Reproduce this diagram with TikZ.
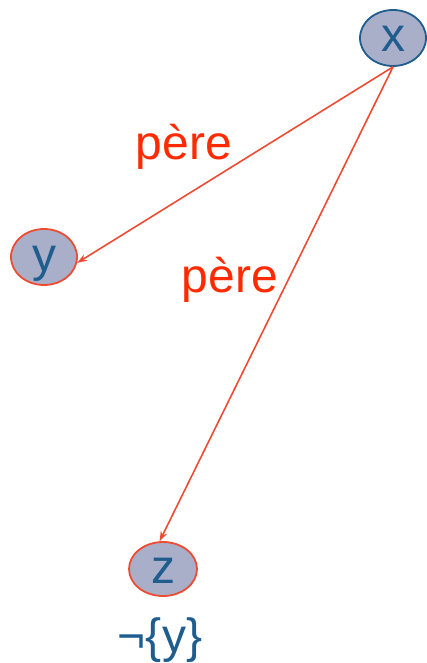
\documentclass[tikz,border=0pt]{standalone}
\usepackage{fontspec}
\setmainfont{Liberation Sans}
\usetikzlibrary{positioning, arrows.meta, shapes.geometric}
\definecolor{nodefill}{HTML}{A9AFC9}
\definecolor{nodeblue}{HTML}{1F5D8E}
\definecolor{edgered}{HTML}{EE4B33}
\definecolor{labelred}{HTML}{FF2A00}
\tikzset{
  var/.style={ellipse, draw=edgered, fill=nodefill, line width=1.8pt, minimum width=66pt, minimum height=56pt, inner sep=0pt, text=nodeblue, font=\fontsize{48}{48}\selectfont, text height=28pt, text depth=0pt},
  pere/.style={-{Stealth[length=10pt, width=7pt]}, edgered, line width=1.6pt},
  perelabel/.style={text=labelred, font=\fontsize{48}{48}\selectfont, anchor=base, inner sep=0pt}
}
\begin{document}
\begin{tikzpicture}[x=1pt, y=1pt]
  \useasboundingbox (0,0) rectangle (426,-663);

  % Variables
  \node[var, draw=nodeblue] (vx) at (393,-38) {x};
  \node[var] (vy) at (44,-257) {y};
  \node[var, minimum width=68pt, minimum height=54pt] (vz) at (163,-569) {z};

  % Parent links
  \draw[pere] (vx.south) -- (vy.-10);
  \draw[pere] (vx.south) -- (vz.97);

  % Labels
  \node[perelabel] (l1) at (184,-160) {père};
  \node[perelabel] (l2) at (230,-292) {père};
  \node[perelabel, text=nodeblue] (nz) at (160,-652) {¬\{y\}};
\end{tikzpicture}
\end{document}
